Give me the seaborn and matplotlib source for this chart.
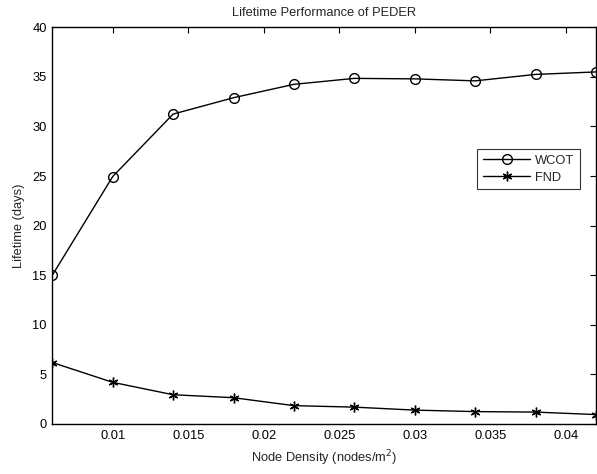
import matplotlib
matplotlib.use("Agg")
import matplotlib.pyplot as plt
import seaborn as sns
import pandas as pd

density = [0.006, 0.010, 0.014, 0.018, 0.022, 0.026, 0.030, 0.034, 0.038, 0.042]
wcot = [15.0, 24.95, 31.25, 32.9, 34.25, 34.85, 34.8, 34.6, 35.25, 35.5]
fnd = [6.2, 4.2, 2.95, 2.65, 1.85, 1.7, 1.4, 1.25, 1.2, 0.95]
xticks = [0.01, 0.015, 0.02, 0.025, 0.03, 0.035, 0.04]
xticklabels = ["0.01", "0.015", "0.02", "0.025", "0.03", "0.035", "0.04"]
yticks = [0, 5, 10, 15, 20, 25, 30, 35, 40]

sns.set_style("white")
plt.rcParams['font.family'] = ['Liberation Sans', 'DejaVu Sans']

FS = 9.3

fig = plt.figure(figsize=(5.97, 4.74), dpi=100)
ax = fig.add_axes([0.0876, 0.1055, 0.9107, 0.8369])

df = pd.DataFrame({"x": density, "WCOT": wcot, "FND": fnd})
sns.lineplot(data=df, x="x", y="WCOT", ax=ax, color="black", lw=1.0,
             marker="o", markersize=7, markerfacecolor="none",
             markeredgecolor="black", markeredgewidth=1.0, label="WCOT")
sns.lineplot(data=df, x="x", y="FND", ax=ax, color="black", lw=1.0,
             marker=(6, 2, 0), markersize=7, markeredgecolor="black",
             markeredgewidth=1.0, label="FND")

ax.set_xlim(0.006, 0.042)
ax.set_ylim(0, 40)
ax.set_xticks(xticks)
ax.set_xticklabels(xticklabels)
ax.set_yticks(yticks)
ax.tick_params(direction="in", length=4, width=0.8, top=True, right=True,
               labelsize=FS, colors="black", pad=4)
for s in ax.spines.values():
    s.set_color("black")
    s.set_linewidth(1.0)

ax.set_xlabel("Node Density (nodes/m$^2$)", fontsize=FS, labelpad=5)
ax.set_ylabel("Lifetime (days)", fontsize=FS, labelpad=5)
ax.set_title("Lifetime Performance of PEDER", fontsize=FS, pad=8)

leg = ax.legend(loc="upper left", bbox_to_anchor=(0.782, 0.693), fontsize=FS,
                frameon=True, fancybox=False, edgecolor="black",
                handlelength=3.6, borderpad=0.45, labelspacing=0.35,
                handletextpad=0.4, borderaxespad=0)
leg.get_frame().set_linewidth(0.8)

fig.savefig("out.png", dpi=100)
